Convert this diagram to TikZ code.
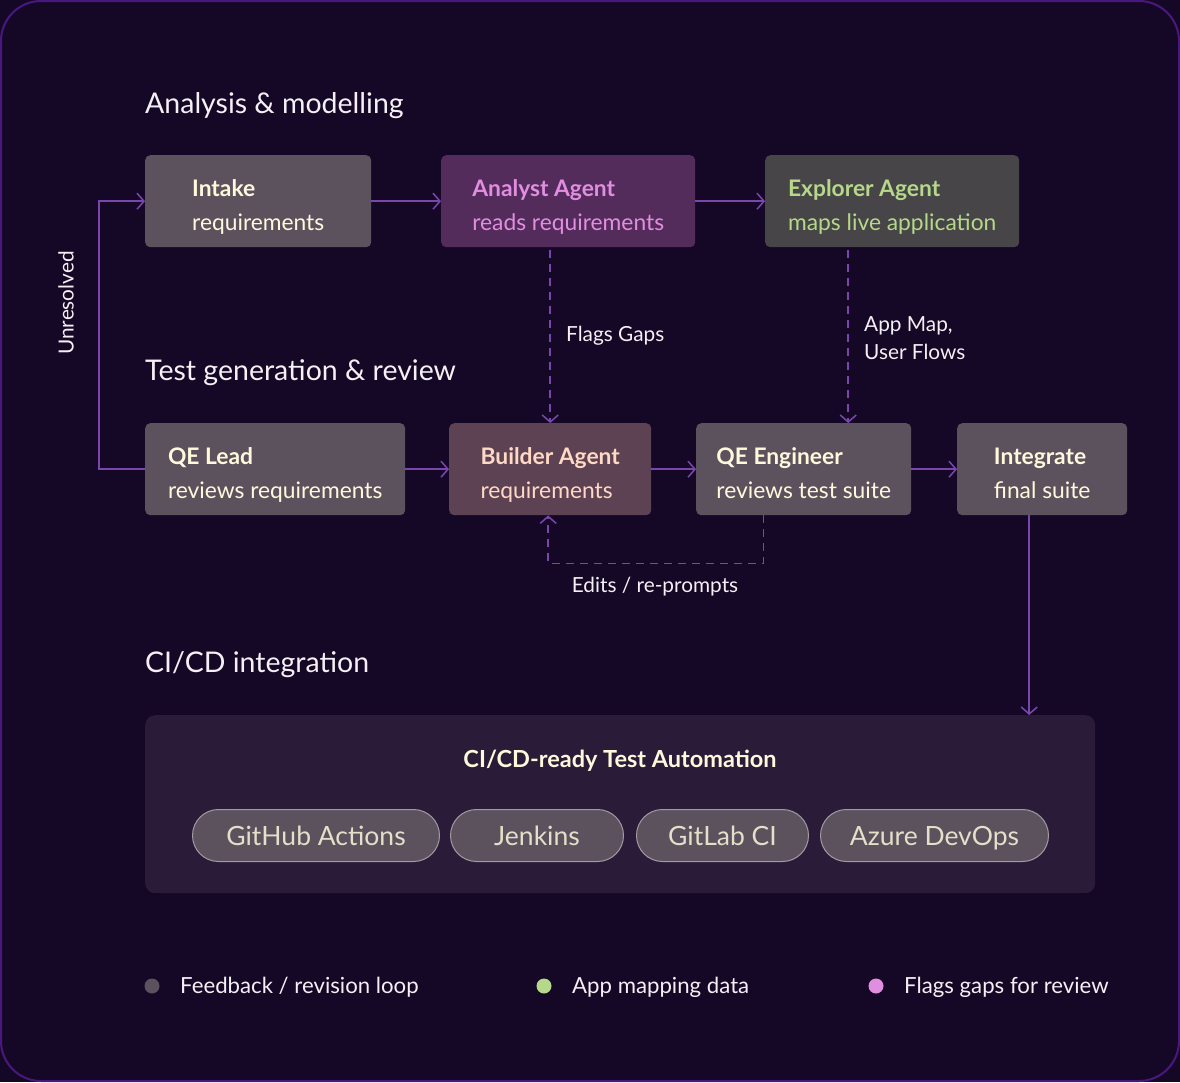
\documentclass[tikz,border=0pt]{standalone}
\usepackage{fontspec}
\setmainfont{Lato}
\usetikzlibrary{arrows.meta,calc}
\definecolor{bg}{HTML}{150726}
\definecolor{frame}{HTML}{4A1780}
\definecolor{boxgray}{HTML}{5C525E}
\definecolor{boxanalyst}{HTML}{532C5C}
\definecolor{boxexplorer}{HTML}{474547}
\definecolor{boxbuilder}{HTML}{5C4252}
\definecolor{cream}{HTML}{FFF9DC}
\definecolor{pinktxt}{HTML}{E28EE0}
\definecolor{greentxt}{HTML}{B5D88A}
\definecolor{peach}{HTML}{FFD9C5}
\definecolor{conn}{HTML}{7B45AE}
\definecolor{panel}{HTML}{2A1C38}
\definecolor{pillborder}{HTML}{A29AA2}
\definecolor{pilltxt}{HTML}{E4DFC8}
\definecolor{whitetxt}{HTML}{F4F0F4}
\newcommand\boxtext[2]{\textbf{#1}\rule[-4pt]{0pt}{32pt}\\#2\rule[-4pt]{0pt}{32pt}}
\tikzset{
  x=1pt, y=-1pt,
  box/.style={fill=boxgray, rounded corners=5pt, anchor=north west, align=left,
    text=cream, font=\fontsize{22.8}{34}\selectfont, inner sep=0pt},
  pill/.style={fill=boxgray, draw=pillborder, line width=1pt, rounded corners=26pt,
    anchor=north west, text=pilltxt, font=\fontsize{26.5}{30}\selectfont, inner xsep=0pt,
    inner ysep=14pt, text height=22pt, text depth=2pt, minimum height=52pt},
  section/.style={anchor=west, text=whitetxt, font=\fontsize{28.5}{32}\selectfont, inner sep=0pt},
  lbl/.style={text=whitetxt, font=\fontsize{20.8}{28}\selectfont, inner sep=0pt, align=left},
  arr/.style={draw=conn, line width=1.5pt, -{Straight Barb[length=7pt,width=16pt,line width=1.5pt]}},
  line/.style={draw=conn, line width=1.5pt},
  dsh/.style={arr, dash pattern=on 8pt off 6pt},
  legdot/.style={circle, minimum size=15pt, inner sep=0pt},
  legtxt/.style={anchor=west, text=whitetxt, font=\fontsize{22.2}{26}\selectfont, inner sep=0pt}
}
\begin{document}
\begin{tikzpicture}
\useasboundingbox (0,0) rectangle (1180,1082);
\fill[bg] (0,0) rectangle (1180,1082);
\draw[frame, line width=2pt, fill=bg, rounded corners=40pt] (1,1) rectangle (1179,1081);

% section titles
\node[section] (s1) at (145,106) {Analysis \& modelling};
\node[section] (s2) at (145,373) {Test generation \& review};
\node[section] (s3) at (145,665) {CI/CD integration};

% row 1
\node[box, minimum width=226pt, minimum height=92pt] (intake) at (145,155)
  {\boxtext{Intake}{requirements}};
\node[box, fill=boxanalyst, text=pinktxt, minimum width=254pt, minimum height=92pt] (analyst) at (441,155)
  {\boxtext{Analyst Agent}{reads requirements}};
\node[box, fill=boxexplorer, text=greentxt, minimum width=254pt, minimum height=92pt] (explorer) at (765,155)
  {\boxtext{Explorer Agent}{maps live application}};

% row 2
\node[box, minimum width=260pt, minimum height=92pt] (qelead) at (145,423)
  {\boxtext{QE Lead}{reviews requirements}};
\node[box, fill=boxbuilder, text=peach, minimum width=202pt, minimum height=92pt] (builder) at (449,423)
  {\boxtext{Builder Agent}{requirements}};
\node[box, minimum width=215pt, minimum height=92pt] (qeeng) at (696,423)
  {\boxtext{QE Engineer}{reviews test suite}};
\node[box, minimum width=170pt, minimum height=92pt] (integrate) at (957,423)
  {\boxtext{Integrate}{final suite}};

% CI/CD panel
\node[fill=panel, rounded corners=10pt, anchor=north west, minimum width=950pt, minimum height=178pt, inner sep=0pt] (cicd) at (145,715) {};
\node[text=cream, font=\bfseries\fontsize{23.5}{28}\selectfont, inner sep=0pt] (cicdtitle) at (620,761) {CI/CD-ready Test Automation};
\node[pill, minimum width=247pt] (gha) at (192,809) {GitHub Actions};
\node[pill, minimum width=173pt] (jenkins) at (450,809) {Jenkins};
\node[pill, minimum width=172pt] (gitlab) at (636,809) {GitLab CI};
\node[pill, minimum width=228pt] (azure) at (820,809) {Azure DevOps};

% solid connectors
\draw[arr] (intake) -- (analyst);
\draw[arr] (analyst) -- (explorer);
\draw[arr] (qelead) -- (builder);
\draw[arr] (builder) -- (qeeng);
\draw[arr] (qeeng) -- (integrate);
\coordinate (intdown) at ($(integrate.south)+(-13,0)$);
\draw[arr] (intdown) -- (intdown |- cicd.north);

% unresolved loop
\draw[arr] (qelead.west) -- ++(-46,0) coordinate (ucorner) |- (intake.west);
\node[lbl, rotate=90] (unres) at (66,303) {Unresolved};

% dashed flags
\coordinate (a1) at (analyst.south -| builder.north);
\draw[dsh] ($(a1)+(0,3)$) -- (builder.north);
\node[lbl, anchor=west] (flagslbl) at (566,336) {Flags Gaps};

\coordinate (e1) at ($(explorer.south)+(-44,0)$);
\draw[dsh] ($(e1)+(0,3)$) -- (e1 |- qeeng.north);
\node[lbl, anchor=west] (applbl) at (864,338) {App Map,\\User Flows};

% edits loop
\coordinate (q1) at ($(qeeng.south)+(-40,0)$);
\draw[dsh] (q1) -- ++(0,48) -| ($(builder.south)+(-2,0)$);
\node[lbl] (editslbl) at (655,587) {Edits / re-prompts};

% legend
\node[legdot, fill=boxgray] (d1) at (152,986) {};
\node[legtxt] (t1) at (180,987) {Feedback / revision loop};
\node[legdot, fill=greentxt] (d2) at (544,986) {};
\node[legtxt] (t2) at (572,987) {App mapping data};
\node[legdot, fill=pinktxt] (d3) at (876,986) {};
\node[legtxt] (t3) at (904,987) {Flags gaps for review};
\end{tikzpicture}
\end{document}
